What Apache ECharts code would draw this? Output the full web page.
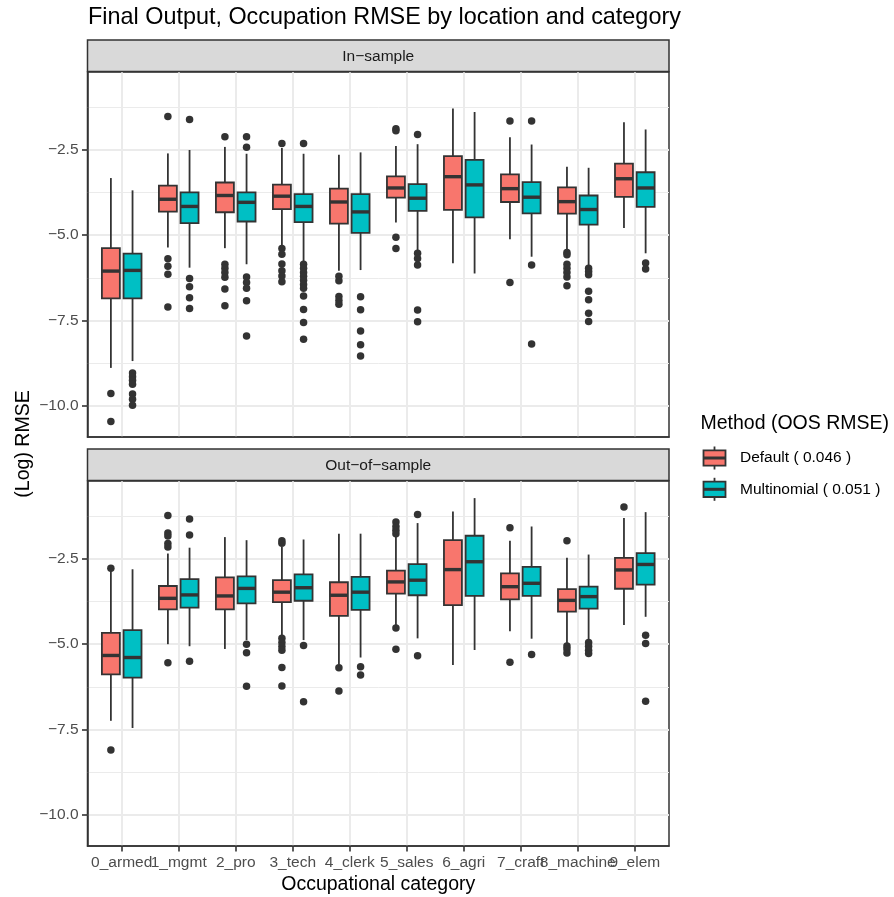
<!DOCTYPE html>
<html>
<head>
<meta charset="utf-8">
<script src="https://cdn.jsdelivr.net/npm/echarts@6/dist/echarts.min.js"></script>
<style>
  html, body { margin: 0; padding: 0; background: #ffffff; }
  #chart { width: 894px; height: 897px; }
</style>
</head>
<body>
<div id="chart"></div>
<script>
// Occupational categories on the x axis
const categories = ['0_armed', '1_mgmt', '2_pro', '3_tech', '4_clerk', '5_sales', '6_agri', '7_craft', '8_machine', '9_elem'];
const methodNames = ['Default ( 0.046 )', 'Multinomial ( 0.051 )'];
const panelNames = ['In\u2212sample', 'Out\u2212of\u2212sample'];
const yTicks = [-10, -7.5, -5, -2.5];
const yMinorTicks = [-8.75, -6.25, -3.75, -1.25];

// Box statistics per category: [lower whisker, Q1, median, Q3, upper whisker]
const inDefaultStats = [
  [-8.88, -6.85, -6.05, -5.38, -3.33],
  [-5.36, -4.31, -3.95, -3.55, -2.61],
  [-5.38, -4.33, -3.84, -3.46, -2.42],
  [-5.33, -4.24, -3.86, -3.52, -2.45],
  [-6.04, -4.66, -4.03, -3.64, -2.65],
  [-4.63, -3.90, -3.62, -3.28, -2.39],
  [-5.82, -4.26, -3.29, -2.69, -1.30],
  [-5.12, -4.03, -3.64, -3.22, -2.14],
  [-5.48, -4.37, -4.02, -3.60, -3.00],
  [-4.79, -3.88, -3.35, -2.91, -1.70]
];
const inMultiStats = [
  [-8.68, -6.85, -6.03, -5.54, -3.69],
  [-5.95, -4.65, -4.16, -3.75, -2.51],
  [-5.85, -4.60, -4.04, -3.75, -2.62],
  [-5.77, -4.62, -4.16, -3.80, -2.62],
  [-6.02, -4.93, -4.32, -3.80, -2.58],
  [-5.48, -4.29, -3.92, -3.51, -2.34],
  [-6.12, -4.48, -3.53, -2.80, -1.40],
  [-5.63, -4.36, -3.89, -3.45, -2.35],
  [-5.92, -4.69, -4.25, -3.84, -3.03],
  [-5.53, -4.17, -3.62, -3.16, -1.91]
];
const outDefaultStats = [
  [-7.24, -5.88, -5.33, -4.67, -2.85],
  [-5.00, -3.98, -3.66, -3.30, -2.35],
  [-5.14, -3.98, -3.59, -3.05, -1.87],
  [-4.78, -3.77, -3.48, -3.13, -2.16],
  [-5.60, -4.17, -3.57, -3.19, -1.77],
  [-4.44, -3.52, -3.18, -2.85, -1.87],
  [-5.61, -3.86, -2.82, -1.96, -1.12],
  [-4.62, -3.69, -3.32, -2.93, -1.98],
  [-5.00, -4.05, -3.72, -3.39, -2.47],
  [-4.44, -3.38, -2.83, -2.48, -1.31]
];
const outMultiStats = [
  [-7.45, -5.98, -5.39, -4.59, -2.81],
  [-5.06, -3.93, -3.56, -3.10, -2.18],
  [-4.88, -3.81, -3.37, -3.02, -1.96],
  [-4.88, -3.73, -3.35, -2.96, -1.94],
  [-5.39, -4.00, -3.48, -3.03, -1.77],
  [-4.83, -3.57, -3.13, -2.66, -1.46],
  [-5.17, -3.59, -2.59, -1.83, -0.73],
  [-4.84, -3.59, -3.22, -2.74, -1.56],
  [-4.86, -3.96, -3.61, -3.32, -2.38],
  [-4.20, -3.26, -2.67, -2.34, -1.14]
];

// Outlying values per category
const inDefaultOutliers = [
  [-9.63, -10.45],
  [-1.53, -5.69, -5.91, -6.14, -7.10],
  [-2.12, -5.85, -5.97, -6.09, -6.23, -6.57, -7.06],
  [-2.32, -5.39, -5.56, -5.84, -6.04, -6.19, -6.36],
  [-6.20, -6.33, -6.79, -6.91, -7.02],
  [-1.89, -1.95, -5.06, -5.39],
  [],
  [-1.66, -6.38],
  [-5.51, -5.57, -5.85, -5.97, -6.09, -6.22, -6.48],
  []
];
const inMultiOutliers = [
  [-9.03, -9.14, -9.24, -9.36, -9.64, -9.80, -9.97],
  [-1.62, -6.27, -6.51, -6.83, -7.14],
  [-2.12, -2.43, -6.22, -6.38, -6.55, -6.92, -7.95],
  [-2.32, -5.85, -5.97, -6.09, -6.20, -6.32, -6.44, -6.55, -6.78, -7.17, -7.55, -8.04],
  [-6.80, -7.18, -7.80, -8.20, -8.53],
  [-2.06, -5.53, -5.68, -5.87, -7.19, -7.53],
  [],
  [-1.66, -5.87, -8.18],
  [-5.97, -6.06, -6.16, -6.64, -6.89, -7.28, -7.52],
  [-5.81, -5.99]
];
const outDefaultOutliers = [
  [-2.78, -8.09],
  [-1.24, -1.75, -1.84, -2.06, -2.16, -5.54],
  [],
  [-1.98, -2.05, -4.83, -4.95, -5.07, -5.18, -5.68, -6.22],
  [-5.69, -6.37],
  [-1.43, -1.56, -1.67, -1.77, -4.53, -5.15],
  [],
  [-1.60, -5.53],
  [-1.98, -5.05, -5.14, -5.26],
  [-0.99]
];
const outMultiOutliers = [
  [],
  [-1.34, -1.81, -5.50],
  [-5.00, -5.25, -6.23],
  [-5.04, -6.68],
  [-5.66, -5.90],
  [-1.21, -5.34],
  [],
  [-5.30],
  [-4.95, -5.06, -5.18, -5.27],
  [-4.74, -4.98, -6.67]
];

const FONT = "'Liberation Sans', Arial, Helvetica, sans-serif";
const FILLS = ['#F8766D', '#00BFC4'];
const EDGE = '#333333';
const GRID_LINE = '#EBEBEB';
const DODGE = 0.19;      // half distance between the two boxes of a category
const BOX_WIDTH = 0.315; // box width in category units
const X_MIN = -0.6, X_MAX = 9.6;
const Y_MIN = -10.9, Y_MAX = -0.23;
const TICK_LEN = 5.5;

const PANEL_LEFT = 87.5, PANEL_WIDTH = 581.5, PANEL_HEIGHT = 365;
const PANEL_TOPS = [72, 481];
const STRIP_HEIGHT = 31.5;

function fmtTick(v) {
  return v.toFixed(1).replace('-', '\u2212');
}

function boxRenderer(offset, fill) {
  return function (params, api) {
    const x = api.value(0) + offset;
    const pLo = api.coord([x, api.value(1)]);
    const pQ1 = api.coord([x, api.value(2)]);
    const pMed = api.coord([x, api.value(3)]);
    const pQ3 = api.coord([x, api.value(4)]);
    const pHi = api.coord([x, api.value(5)]);
    const half = api.size([BOX_WIDTH, 0])[0] / 2;
    return {
      type: 'group',
      children: [
        { type: 'line', shape: { x1: pHi[0], y1: pHi[1], x2: pQ3[0], y2: pQ3[1] }, style: { stroke: EDGE, lineWidth: 1.8 } },
        { type: 'line', shape: { x1: pQ1[0], y1: pQ1[1], x2: pLo[0], y2: pLo[1] }, style: { stroke: EDGE, lineWidth: 1.8 } },
        { type: 'rect', shape: { x: pQ3[0] - half, y: pQ3[1], width: half * 2, height: pQ1[1] - pQ3[1] }, style: { fill: fill, stroke: EDGE, lineWidth: 1.8 } },
        { type: 'line', shape: { x1: pMed[0] - half, y1: pMed[1], x2: pMed[0] + half, y2: pMed[1] }, style: { stroke: EDGE, lineWidth: 3.4 } }
      ]
    };
  };
}

const panels = [
  { stats: [inDefaultStats, inMultiStats], outliers: [inDefaultOutliers, inMultiOutliers] },
  { stats: [outDefaultStats, outMultiStats], outliers: [outDefaultOutliers, outMultiOutliers] }
];

const grids = [], xAxes = [], yAxes = [], series = [];
const catTicks = categories.map((c, i) => i);
const evenTicks = catTicks.filter(i => i % 2 === 0);
const oddTicks = catTicks.filter(i => i % 2 === 1);

const catLabel = (show, values) => ({
  show: show, customValues: values, margin: 9, hideOverlap: false,
  formatter: v => categories[Math.round(v)] || '',
  color: '#4D4D4D', fontSize: 15.5, fontFamily: FONT
});

panels.forEach((panel, p) => {
  grids.push({
    left: PANEL_LEFT, top: PANEL_TOPS[p], width: PANEL_WIDTH, height: PANEL_HEIGHT,
    show: true, backgroundColor: '#ffffff', borderColor: EDGE, borderWidth: 1.5,
    containLabel: false, outerBoundsMode: 'none'
  });
  const isBottom = p === panels.length - 1;
  xAxes.push({
    type: 'value', gridIndex: p, min: X_MIN, max: X_MAX, position: 'bottom',
    axisLine: { show: true, onZero: false, lineStyle: { color: EDGE, width: 1.5 } },
    axisTick: { show: isBottom, customValues: catTicks, length: TICK_LEN, lineStyle: { color: EDGE, width: 1.6 } },
    axisLabel: catLabel(isBottom, evenTicks),
    splitLine: { show: true, lineStyle: { color: GRID_LINE, width: 2 } }
  });
  // major y grid with labels
  yAxes.push({
    type: 'value', gridIndex: p, min: Y_MIN, max: Y_MAX, position: 'left',
    axisLine: { show: true, onZero: false, lineStyle: { color: EDGE, width: 1.5 } },
    axisTick: { show: true, customValues: yTicks, length: TICK_LEN, lineStyle: { color: EDGE, width: 1.6 } },
    axisLabel: { show: true, customValues: yTicks, formatter: fmtTick, margin: 9, color: '#4D4D4D', fontSize: 15.5, fontFamily: FONT },
    splitLine: { show: true, lineStyle: { color: GRID_LINE, width: 2 } }
  });
  // minor y grid
  yAxes.push({
    type: 'value', gridIndex: p, min: Y_MIN, max: Y_MAX, position: 'left',
    axisLine: { show: false, onZero: false },
    axisTick: { show: false, customValues: yMinorTicks },
    axisLabel: { show: false, customValues: yMinorTicks },
    splitLine: { show: true, lineStyle: { color: GRID_LINE, width: 1 } }
  });

  [0, 1].forEach(m => {
    const offset = m === 0 ? -DODGE : DODGE;
    series.push({
      type: 'custom', name: methodNames[m],
      xAxisIndex: p, yAxisIndex: p * 2,
      renderItem: boxRenderer(offset, FILLS[m]),
      encode: { x: 0, y: [1, 2, 3, 4, 5] },
      data: panel.stats[m].map((s, i) => [i].concat(s)),
      z: 3
    });
    const pts = [];
    panel.outliers[m].forEach((vals, i) => vals.forEach(v => pts.push([i + offset, v])));
    series.push({
      type: 'scatter', name: methodNames[m] + ' outliers',
      xAxisIndex: p, yAxisIndex: p * 2,
      symbol: 'circle', symbolSize: 7.5,
      itemStyle: { color: EDGE, opacity: 1 },
      data: pts, z: 4
    });
  });
});

// second label row for the odd categories, which overlap their neighbours
xAxes.push({
  type: 'value', gridIndex: panels.length - 1, min: X_MIN, max: X_MAX, position: 'bottom', offset: 0,
  axisLine: { show: false, onZero: false },
  axisTick: { show: false, customValues: oddTicks },
  axisLabel: catLabel(true, oddTicks),
  splitLine: { show: false }
});

// Facet strips, axis titles and legend
const graphics = [];
panelNames.forEach((name, p) => {
  const top = PANEL_TOPS[p] - STRIP_HEIGHT - 0.5;
  graphics.push({
    type: 'rect', shape: { x: PANEL_LEFT, y: top, width: PANEL_WIDTH, height: STRIP_HEIGHT },
    style: { fill: '#D9D9D9', stroke: EDGE, lineWidth: 1.5 }, z: 10
  });
  graphics.push({
    type: 'text', x: PANEL_LEFT + PANEL_WIDTH / 2, y: top + STRIP_HEIGHT / 2 + 0.5,
    style: { text: name, fill: '#1A1A1A', fontSize: 15.5, fontFamily: FONT, textAlign: 'center', textVerticalAlign: 'middle' },
    z: 11
  });
});
graphics.push({
  type: 'text', x: 24, y: 444, rotation: Math.PI / 2,
  style: { text: '(Log) RMSE', fill: '#000000', fontSize: 19.5, fontFamily: FONT, textAlign: 'center', textVerticalAlign: 'middle' }
});
graphics.push({
  type: 'text', x: PANEL_LEFT + PANEL_WIDTH / 2, y: 884.5,
  style: { text: 'Occupational category', fill: '#000000', fontSize: 19.5, fontFamily: FONT, textAlign: 'center', textVerticalAlign: 'middle' }
});
graphics.push({
  type: 'text', x: 700.5, y: 424,
  style: { text: 'Method (OOS RMSE)', fill: '#000000', fontSize: 19.5, fontFamily: FONT, textAlign: 'left', textVerticalAlign: 'middle' }
});
methodNames.forEach((name, m) => {
  const cy = m === 0 ? 458 : 489.3;
  const cx = 714.5;
  graphics.push({ type: 'line', shape: { x1: cx, y1: cy - 11.5, x2: cx, y2: cy + 11.5 }, style: { stroke: EDGE, lineWidth: 1.8 } });
  graphics.push({ type: 'rect', shape: { x: cx - 11, y: cy - 7.7, width: 22, height: 15.4 }, style: { fill: FILLS[m], stroke: EDGE, lineWidth: 1.8 } });
  graphics.push({ type: 'line', shape: { x1: cx - 11, y1: cy, x2: cx + 11, y2: cy }, style: { stroke: EDGE, lineWidth: 3 } });
  graphics.push({
    type: 'text', x: 740, y: cy,
    style: { text: name, fill: '#000000', fontSize: 15.5, fontFamily: FONT, textAlign: 'left', textVerticalAlign: 'middle' }
  });
});

const chart = echarts.init(document.getElementById('chart'), null, { renderer: 'canvas' });
chart.setOption({
  animation: false,
  backgroundColor: '#ffffff',
  title: {
    text: 'Final Output, Occupation RMSE by location and category',
    left: 88, top: 6, padding: 0,
    textStyle: { fontSize: 23.4, fontWeight: 'normal', color: '#000000', fontFamily: FONT, lineHeight: 23 }
  },
  grid: grids,
  xAxis: xAxes,
  yAxis: yAxes,
  series: series,
  graphic: { elements: graphics }
});
</script>
</body>
</html>
